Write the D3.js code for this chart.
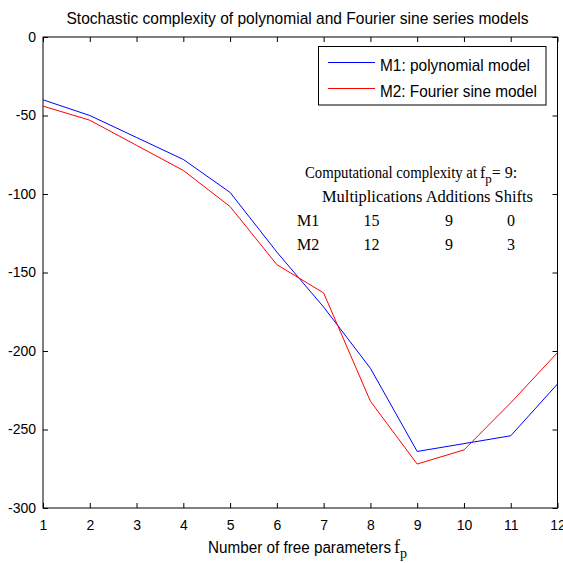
<!DOCTYPE html>
<html>
<head>
<meta charset="utf-8">
<script src="https://cdn.jsdelivr.net/npm/d3@7"></script>
<style>
  body { margin: 0; background: #fff; }
  svg { display: block; }
  .axis path, .axis line { stroke: #000; }
  .axis text { font-family: "Liberation Sans", Arial, sans-serif; font-size: 14px; fill: #000; }
  .tbl { font-family: "Liberation Serif", "Times New Roman", serif; font-size: 16px; }
</style>
</head>
<body>
<script>
// chart values
var fp = [1, 2, 3, 4, 5, 6, 7, 8, 9, 10, 11, 12];
var m1 = [-40, -50, -64, -78, -99, -137, -172, -211, -264, -259, -254, -221];
var m2 = [-44, -53, -69, -85, -108, -145, -163, -232, -272, -263, -233, -201];
var seriesNames = ["M1: polynomial model", "M2: Fourier sine model"];
var seriesColors = ["#0000ff", "#ff0000"];
var yTicks = [0, -50, -100, -150, -200, -250, -300];

// complexity table at fp = 9
var tblHeader = "Multiplications Additions Shifts";
var tblRows = ["M1", "M2"];
var tblMult = [15, 12];
var tblAdd = [9, 9];
var tblShift = [0, 3];

var W = 563, H = 563;
var margin = { left: 43, top: 37, right: 5.5, bottom: 55 };
var width = W - margin.left - margin.right;
var height = H - margin.top - margin.bottom;

var svg = d3.select("body").append("svg")
    .attr("width", W)
    .attr("height", H);

var x = d3.scaleLinear().domain([1, 12]).range([0, width]);
var y = d3.scaleLinear().domain([-300, 0]).range([height, 0]);

var g = svg.append("g")
    .attr("transform", "translate(" + margin.left + "," + margin.top + ")");

// plain hyphen for negatives, like the original
var fmt = function (d) { return String(d); };

// axes, ticks pointing inward on all four sides
g.append("g")
    .attr("class", "axis")
    .attr("transform", "translate(0," + height + ")")
    .call(d3.axisBottom(x).tickValues(fp).tickFormat(fmt)
        .tickSizeInner(-5).tickSizeOuter(0).tickPadding(12));

g.append("g")
    .attr("class", "axis")
    .call(d3.axisLeft(y).tickValues(yTicks).tickFormat(fmt)
        .tickSizeInner(-5).tickSizeOuter(0).tickPadding(7));

g.append("g")
    .attr("class", "axis")
    .call(d3.axisTop(x).tickValues(fp).tickFormat("")
        .tickSizeInner(-5).tickSizeOuter(0));

g.append("g")
    .attr("class", "axis")
    .attr("transform", "translate(" + width + ",0)")
    .call(d3.axisRight(y).tickValues(yTicks).tickFormat("")
        .tickSizeInner(-5).tickSizeOuter(0));

g.selectAll(".axis .domain").remove();
g.append("rect")
    .attr("width", width)
    .attr("height", height)
    .attr("fill", "none")
    .attr("stroke", "#000")
    .attr("stroke-width", 1);

// lines
var line = d3.line()
    .x(function (d, i) { return x(fp[i]); })
    .y(function (d) { return y(d); });

[m1, m2].forEach(function (s, i) {
    g.append("path")
        .datum(s)
        .attr("fill", "none")
        .attr("stroke", seriesColors[i])
        .attr("stroke-width", 1)
        .attr("d", line);
});

// title
svg.append("text")
    .attr("x", 297.5)
    .attr("y", 24)
    .attr("text-anchor", "middle")
    .attr("textLength", 462)
    .attr("lengthAdjust", "spacingAndGlyphs")
    .style("font-family", "Liberation Sans, Arial, sans-serif")
    .style("font-size", "17px")
    .text("Stochastic complexity of polynomial and Fourier sine series models");

// x label
var xl = svg.append("text")
    .style("font-family", "Liberation Sans, Arial, sans-serif")
    .style("font-size", "16px")
    .attr("y", 553);
xl.append("tspan")
    .attr("x", 208)
    .attr("textLength", 183)
    .attr("lengthAdjust", "spacingAndGlyphs")
    .text("Number of free parameters");
xl.append("tspan")
    .attr("x", 394)
    .style("font-family", "Liberation Serif, Times New Roman, serif")
    .style("font-size", "18px")
    .text("f");
xl.append("tspan")
    .attr("dy", 5)
    .style("font-family", "Liberation Serif, Times New Roman, serif")
    .style("font-size", "14px")
    .text("p");

// legend
var leg = svg.append("g");
leg.append("rect")
    .attr("x", 318.5).attr("y", 46.5)
    .attr("width", 227.5).attr("height", 58.5)
    .attr("fill", "#fff")
    .attr("stroke", "#000");
var legY = [62.5, 88.5];
var legLen = [150, 157];
seriesNames.forEach(function (n, i) {
    leg.append("line")
        .attr("x1", 328).attr("x2", 375)
        .attr("y1", legY[i]).attr("y2", legY[i])
        .attr("stroke", seriesColors[i]);
    leg.append("text")
        .attr("x", 380)
        .attr("y", legY[i] + 8)
        .attr("textLength", legLen[i])
        .attr("lengthAdjust", "spacingAndGlyphs")
        .style("font-family", "Liberation Sans, Arial, sans-serif")
        .style("font-size", "17px")
        .text(n);
});

// complexity table
var tb = svg.append("g").attr("class", "tbl");
var head = tb.append("text").attr("y", 178);
head.append("tspan")
    .attr("x", 305)
    .attr("textLength", 172)
    .attr("lengthAdjust", "spacingAndGlyphs")
    .text("Computational complexity at");
head.append("tspan").attr("x", 480).text("f");
head.append("tspan").attr("dy", 5).style("font-size", "13px").text("p");
head.append("tspan").attr("dy", -5).text("= 9:");

tb.append("text")
    .attr("x", 322)
    .attr("y", 202)
    .attr("textLength", 211)
    .attr("lengthAdjust", "spacingAndGlyphs")
    .text(tblHeader);

var rowY = [226, 249.5];
tblRows.forEach(function (r, i) {
    tb.append("text").attr("x", 297).attr("y", rowY[i]).text(r);
    tb.append("text").attr("x", 371.5).attr("y", rowY[i])
        .attr("text-anchor", "middle").text(tblMult[i]);
    tb.append("text").attr("x", 449).attr("y", rowY[i])
        .attr("text-anchor", "middle").text(tblAdd[i]);
    tb.append("text").attr("x", 511).attr("y", rowY[i])
        .attr("text-anchor", "middle").text(tblShift[i]);
});
</script>
</body>
</html>
